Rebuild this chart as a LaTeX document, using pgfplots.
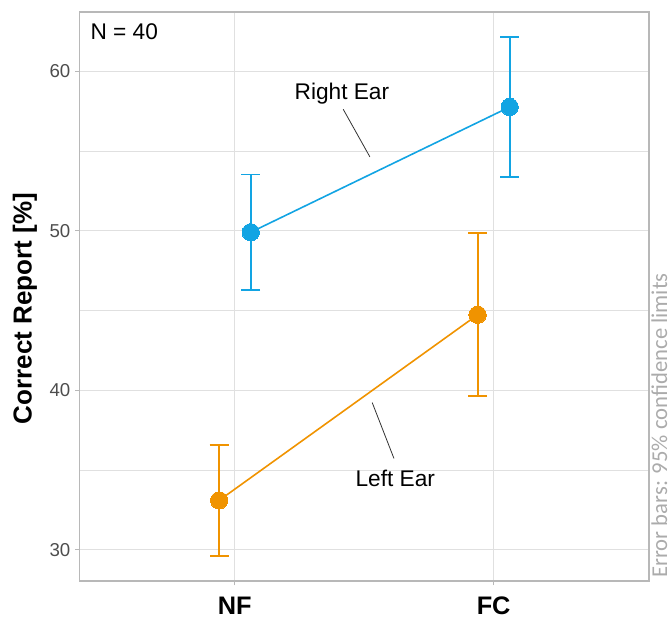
\documentclass[border=0pt]{standalone}
\usepackage{fontspec}
\setmainfont{Liberation Sans}
\newfontfamily\capfont{Carlito}
\usepackage{pgfplots}
\usepackage{pgfplotstable}
\pgfplotsset{compat=1.18}
\definecolor{blueC}{HTML}{12A4E3}
\definecolor{orangeC}{HTML}{F09300}
\definecolor{gridC}{HTML}{E0E0E0}
\definecolor{borderC}{HTML}{B8B8B8}
\definecolor{tickC}{HTML}{4D4D4D}
\definecolor{capC}{HTML}{ABABAB}

\pgfplotstableread{
x y e
0.940 33.10 3.47
1.938 44.73 5.10
}\leftear
\pgfplotstableread{
x y e
1.062 49.90 3.62
2.062 57.75 4.37
}\rightear

\begin{document}
\begin{tikzpicture}
\begin{axis}[
  at={(0,0)}, anchor=south west,
  scale only axis, width=427.3pt, height=426.75pt,
  xmin=0.4, xmax=2.6, ymin=28.05, ymax=63.7,
  xtick={1,2}, xticklabels={NF,FC},
  ytick={30,40,50,60},
  minor ytick={35,45,55},
  grid=both,
  major grid style={gridC, line width=0.6pt},
  minor grid style={gridC, line width=0.45pt},
  axis line style={borderC, line width=0.9pt},
  tick align=outside, tick pos=left,
  major tick length=3.2pt, minor tick length=0pt,
  every tick/.style={borderC, line width=0.6pt},
  /pgf/number format/assume math mode=true,
  yticklabel style={font=\fontsize{14}{14}\selectfont, text=tickC},
  xticklabel style={font=\bfseries\fontsize{19}{19}\selectfont, text=black, yshift=-5pt},
  ylabel={Correct Report [\%]},
  ylabel style={font=\bfseries\fontsize{19.5}{19.5}\selectfont, at={(axis description cs:-0.0953,0.479)}, anchor=center},
  clip=false,
]
\addplot[orangeC, line width=1.2pt, mark=*, mark size=6.5pt,
  mark options={solid, fill=orangeC, draw=orangeC, line width=0pt},
  error bars/.cd, y dir=both, y explicit,
  error bar style={line width=1.4pt, orangeC},
  error mark options={orangeC, line width=1.4pt, mark size=7.1pt, rotate=90}]
  table[x=x, y=y, y error=e] {\leftear};
\addplot[blueC, line width=1.2pt, mark=*, mark size=6.5pt,
  mark options={solid, fill=blueC, draw=blueC, line width=0pt},
  error bars/.cd, y dir=both, y explicit,
  error bar style={line width=1.4pt, blueC},
  error mark options={blueC, line width=1.4pt, mark size=7.1pt, rotate=90}]
  table[x=x, y=y, y error=e] {\rightear};

\draw[black!80, line width=0.6pt] (axis cs:1.419,57.61) -- (axis cs:1.522,54.625);
\draw[black!80, line width=0.6pt] (axis cs:1.531,39.23) -- (axis cs:1.615,35.73);
\node[anchor=base, inner sep=0pt, font=\fontsize{17}{17}\selectfont] at (axis cs:1.414,58.23) {Right Ear};
\node[anchor=base, inner sep=0pt, font=\fontsize{17}{17}\selectfont] at (axis cs:1.62,34.0) {Left Ear};
\node[anchor=base west, inner sep=0pt, font=\fontsize{17}{17}\selectfont] at (axis cs:0.4423,61.98) {N = 40};
\node[anchor=base west, inner sep=0pt, rotate=90, text=capC, font=\capfont\fontsize{17}{17}\selectfont] at (axis cs:2.670,28.25) {Error bars: 95\% confidence limits};
\end{axis}
\pgfresetboundingbox
\path (-59.475pt,-28.5pt) rectangle (444.525pt,435.75pt);
\end{tikzpicture}
\end{document}
